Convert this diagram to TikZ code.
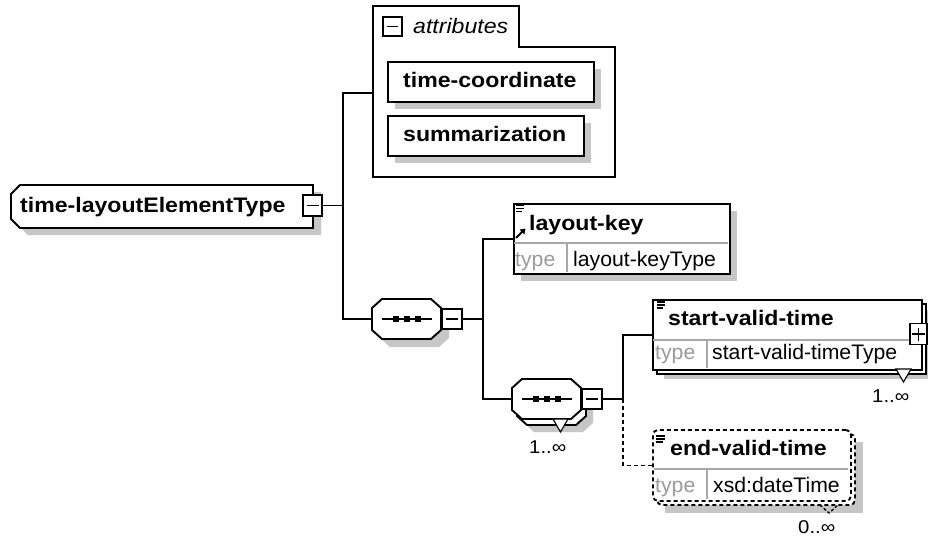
\documentclass[tikz,border=0pt]{standalone}
\usepackage{fontspec}
\setmainfont{Liberation Sans}
\newfontfamily\wfont[FakeStretch=1.1]{Liberation Sans}
\newfontfamily\rfont[FakeStretch=1.01]{Liberation Sans}
\usetikzlibrary{arrows.meta}
\definecolor{shadowc}{HTML}{C6C6C6}
\definecolor{typec}{HTML}{9A9A9A}
\definecolor{divc}{HTML}{A8A8A8}
\begin{document}
\begin{tikzpicture}[x=1pt,y=-1pt,
  ln/.style={line width=1.9pt, draw=black},
  conn/.style={line width=1.9pt},
  dconn/.style={line width=1.9pt, dash pattern=on 4pt off 3pt},
  shd/.style={fill=shadowc},
  elbox/.style={draw=black, line width=1.9pt, fill=white, anchor=north west, inner sep=0pt},
  hollow/.style={anchor=north west, inner sep=0pt},
  pmbox/.style={draw=black, line width=1.6pt, fill=white, inner sep=0pt, minimum width=19pt, minimum height=21pt},
  btxt/.style={anchor=base west, inner sep=0pt, font=\wfont\fontsize{21}{24}\selectfont\bfseries},
  itxt/.style={anchor=base west, inner sep=0pt, font=\wfont\fontsize{21}{24}\selectfont\itshape},
  rtxt/.style={anchor=base west, inner sep=0pt, font=\rfont\fontsize{21}{24}\selectfont},
  ttxt/.style={anchor=base west, inner sep=0pt, text=typec, font=\rfont\fontsize{21}{24}\selectfont},
  mtxt/.style={anchor=base west, inner sep=0pt, font=\wfont\fontsize{18.5}{20}\selectfont},
  div/.style={draw=divc, line width=1.1pt},
  sgn/.style={line width=1.6pt},
  icon/.style={line width=1.3pt},
  oct/.style n args={4}{insert path={({#1+10},{#2}) -- ({#3-10},{#2}) -- ({#3},{#2+9}) -- ({#3},{#4-9}) -- ({#3-10},{#4}) -- ({#1+10},{#4}) -- ({#1},{#4-9}) -- ({#1},{#2+9}) -- cycle}}
]
\useasboundingbox[fill=white] (0,0) rectangle (928,539);

% ---------- root element type ----------
\fill[shd] (28,192) -- (321,192) -- (321,235) -- (28,235) -- (19,226) -- (19,201) -- cycle;
\draw[ln, fill=white] (20,185) -- (313,185) -- (313,228) -- (20,228) -- (11,219) -- (11,194) -- cycle;
\node[btxt] (root) at (20,212) {time-layoutElementType};
\node[pmbox] (rootpm) at (312.5,205.5) {};
\draw[sgn] (306.5,205.5) -- (318.5,205.5);

% ---------- attributes ----------
\draw[line width=1.6pt, fill=white] (373,177) -- (373,6) -- (519,6) -- (519,47) -- (615,47) -- (615,177) -- cycle;
\node[hollow, minimum width=242pt, minimum height=174pt] (attr) at (373,6) {};
\node[pmbox, minimum width=19pt, minimum height=19pt] (attrpm) at (392.5,26.5) {};
\draw[sgn] (387,26.5) -- (398,26.5);
\node[itxt] (attrlbl) at (413,33) {attributes};

\fill[shd] (395,69) rectangle (601,109);
\node[elbox, minimum width=206pt, minimum height=40pt] (tc) at (387,61) {};
\node[btxt] (tctxt) at (403,87) {time-coordinate};

\fill[shd] (395,123) rectangle (591,163);
\node[elbox, minimum width=196pt, minimum height=40pt] (sm) at (387,115) {};
\node[btxt] (smtxt) at (403,141) {summarization};

% ---------- sequence 1 ----------
\fill[shd, oct={380}{307}{449}{347}];
\draw[ln, fill=white, oct={372}{299}{441}{339}];
\node[hollow, minimum width=69pt, minimum height=40pt] (seq1) at (372,299) {};
\draw[sgn] (382,319) -- (432,319);
\foreach \cx in {396,407,418} \fill (\cx-3,316) rectangle (\cx+3,322);
\node[pmbox, minimum width=20pt, minimum height=20pt] (seq1pm) at (452,319) {};
\draw[sgn] (446,319) -- (458,319);

% ---------- sequence 2 (1..inf) ----------
\fill[shd, oct={524}{392}{593}{432}];
\draw[ln, fill=white, oct={517}{385}{586}{425}];
\draw[ln, fill=white, oct={512}{379}{581}{419}];
\node[hollow, minimum width=69pt, minimum height=40pt] (seq2) at (512,379) {};
\draw[line width=1.1pt, fill=white] (553,419) -- (568,419) -- (560.5,432) -- cycle;
\draw[sgn] (522,399) -- (572,399);
\foreach \cx in {536,547,558} \fill (\cx-3,396) rectangle (\cx+3,402);
\node[pmbox, minimum width=20pt, minimum height=20pt] (seq2pm) at (592,399) {};
\draw[sgn] (586,399) -- (598,399);
\node[mtxt] (seq2m) at (529,453) {1..∞};

% ---------- layout-key ----------
\fill[shd] (521,211) rectangle (737,281);
\node[elbox, minimum width=216pt, minimum height=70pt] (lk) at (513,203) {};
\draw[div] (514,243) -- (728,243);
\draw[div] (567,243) -- (567,272);
\draw[icon] (515.5,205.5) -- (524,205.5) (515.5,208.5) -- (524,208.5) (515.5,211.5) -- (522,211.5);
\draw[line width=2pt, -{Triangle[length=5pt,width=6.5pt]}] (516,238) -- (525.5,228.5);
\node[btxt] (lktxt) at (529,230) {layout-key};
\node[ttxt] (lktype) at (515,266) {type};
\node[rtxt] (lkval) at (573,266) {layout-keyType};

% ---------- start-valid-time (1..inf) ----------
\fill[shd] (664,310) rectangle (934,379);
\draw[ln, fill=white] (657,304) rectangle (926,374);
\node[elbox, minimum width=269pt, minimum height=70pt] (svt) at (652,299) {};
\draw[div] (653,340) -- (920,340);
\draw[div] (707,340) -- (707,368);
\draw[icon] (656.5,302) -- (665,302) (656.5,305) -- (665,305) (656.5,308) -- (663,308);
\node[btxt] (svttxt) at (668,325) {start-valid-time};
\node[ttxt] (svttype) at (655,359) {type};
\node[rtxt] (svtval) at (712,359) {start-valid-timeType};
\node[pmbox, minimum width=17pt, minimum height=21pt] (svtpm) at (918.5,334) {};
\draw[sgn] (912,334) -- (925,334);
\draw[sgn] (918.5,327.5) -- (918.5,340.5);
\draw[line width=1.1pt, fill=white] (896,369) -- (911,369) -- (903.5,382) -- cycle;
\node[mtxt] (svtm) at (872,402) {1..∞};

% ---------- end-valid-time (0..inf, optional) ----------
\fill[shd] (665,442) rectangle (863,513);
\draw[dconn, fill=white, rounded corners=5pt] (657,434) rectangle (855,505);
\node[elbox, dash pattern=on 4pt off 3pt, rounded corners=5pt, minimum width=198pt, minimum height=71pt] (evt) at (652,429) {};
\draw[div] (654,469) -- (848,469);
\draw[div] (707,469) -- (707,499);
\draw[icon] (656,436) -- (664.5,436) (656,439) -- (664.5,439) (656,442) -- (662.5,442);
\node[btxt] (evttxt) at (670,455) {end-valid-time};
\node[ttxt] (evttype) at (655,492) {type};
\node[rtxt] (evtval) at (713,492) {xsd:dateTime};
\draw[line width=1.3pt, dash pattern=on 3pt off 2pt] (820,505) -- (829,513) -- (838,505);
\node[mtxt] (evtm) at (798,533) {0..∞};

% ---------- connectors ----------
\coordinate (t1) at (343,205.5);
\coordinate (t2) at (483,319);
\coordinate (t3) at (623,399);
\draw[conn] (rootpm.east) -- (t1);
\draw[conn] (t1) |- (attr.west);
\draw[conn] (t1) |- (seq1.west);
\draw[conn] (seq1pm.east) -- (t2);
\draw[conn] (t2) |- (lk.west);
\draw[conn] (t2) |- (seq2.west);
\draw[conn] (seq2pm.east) -- (t3);
\draw[conn] (t3) |- (svt.west);
\draw[dconn] (t3) |- (evt.west);
\end{tikzpicture}
\end{document}
